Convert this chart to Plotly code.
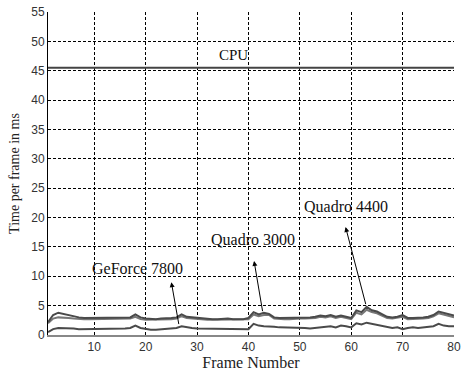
import plotly.graph_objects as go

frames = list(range(1, 81))

cpu = [45.5] * 80

quadro_4400 = [2.2, 3.4, 3.8, 3.6, 3.3, 3.1, 3.0, 2.9, 2.9, 2.9,
               2.9, 2.9, 2.9, 3.0, 3.0, 2.9, 3.0, 3.5, 3.0, 2.8,
               2.7, 2.7, 2.8, 2.8, 2.9, 3.0, 3.5, 3.1, 3.0, 2.9,
               2.8, 2.7, 2.7, 2.7, 2.8, 2.8, 2.7, 2.7, 2.7, 2.9,
               3.9, 3.5, 3.8, 3.6, 3.0, 2.9, 2.9, 2.9, 3.0, 3.0,
               3.0, 3.0, 3.1, 3.3, 3.2, 3.4, 3.1, 3.3, 3.1, 2.9,
               4.2, 3.9, 4.8, 4.2, 4.0, 3.6, 3.1, 3.0, 3.1, 3.4,
               2.9, 2.9, 2.9, 3.0, 3.1, 3.4, 4.0, 3.8, 3.5, 3.3]

quadro_3000 = [2.0, 2.8, 3.0, 3.0, 2.9, 2.8, 2.7, 2.7, 2.7, 2.7,
               2.7, 2.7, 2.7, 2.8, 2.8, 2.7, 2.8, 3.1, 2.7, 2.6,
               2.6, 2.6, 2.6, 2.6, 2.7, 2.8, 3.2, 2.9, 2.8, 2.7,
               2.6, 2.6, 2.6, 2.6, 2.6, 2.6, 2.6, 2.6, 2.6, 2.7,
               3.5, 3.2, 3.4, 3.4, 2.8, 2.7, 2.7, 2.7, 2.8, 2.8,
               2.8, 2.8, 2.9, 3.1, 3.0, 3.2, 2.9, 3.1, 2.9, 2.7,
               3.8, 3.5, 4.3, 3.9, 3.7, 3.3, 2.9, 2.8, 2.9, 3.1,
               2.7, 2.7, 2.7, 2.8, 2.9, 3.2, 3.7, 3.5, 3.2, 3.0]

geforce_7800 = [0.5, 1.0, 1.2, 1.2, 1.1, 1.1, 1.0, 1.0, 1.1, 1.1,
                1.1, 1.1, 1.1, 1.1, 1.1, 1.1, 1.2, 1.6, 1.2, 1.0,
                0.9, 0.9, 1.0, 1.0, 1.1, 1.2, 1.5, 1.3, 1.2, 1.1,
                1.1, 1.0, 1.0, 1.0, 1.0, 1.0, 1.0, 1.0, 1.0, 1.0,
                1.9, 1.6, 1.5, 1.5, 1.4, 1.3, 1.3, 1.3, 1.2, 1.2,
                1.2, 1.1, 1.2, 1.4, 1.5, 1.5, 1.3, 1.6, 1.5, 1.3,
                2.0, 1.8, 2.1, 1.9, 1.8, 1.6, 1.4, 1.2, 1.3, 1.0,
                1.2, 1.3, 1.2, 1.3, 1.4, 1.5, 1.9, 1.6, 1.5, 1.5]

x_ticks = [10, 20, 30, 40, 50, 60, 70, 80]
y_ticks = [0, 5, 10, 15, 20, 25, 30, 35, 40, 45, 50, 55]

# labels: (text, text_x, text_y, arrow_head_x, arrow_head_y, arrow_tail_x, arrow_tail_y)
labels = [
    ("GeForce 7800", 18.5, 11.4, 25.0, 9.0, 26.5, 1.6),
    ("Quadro 3000", 40.9, 16.2, 41.1, 12.6, 42.8, 3.8),
    ("Quadro 4400", 58.9, 21.9, 58.9, 18.4, 62.9, 5.0),
]
cpu_label = ("CPU", 37.0, 47.6)

fig = go.Figure()
series = [
    ("CPU", cpu, "#444444"),
    ("GeForce 7800", geforce_7800, "#4a4a4a"),
    ("Quadro 3000", quadro_3000, "#777777"),
    ("Quadro 4400", quadro_4400, "#4a4a4a"),
]
for name, ys, col in series:
    fig.add_trace(go.Scatter(x=frames, y=ys, mode="lines", name=name,
                             line=dict(color=col, width=2), showlegend=False))

serif = "Liberation Serif, Times New Roman, serif"
annotations = []
for text, tx, ty, hx, hy, sx, sy in labels:
    annotations.append(dict(x=tx, y=ty, xref="x", yref="y", text=text, showarrow=False,
                            font=dict(family=serif, size=16, color="#111111")))
    annotations.append(dict(x=hx, y=hy, xref="x", yref="y", ax=sx, ay=sy,
                            axref="x", ayref="y", text="", showarrow=True,
                            arrowhead=2, arrowsize=1, arrowwidth=1, arrowcolor="black"))
annotations.append(dict(x=cpu_label[1], y=cpu_label[2], xref="x", yref="y", text=cpu_label[0],
                        showarrow=False, font=dict(family=serif, size=15, color="#111111")))

fig.update_layout(
    width=463, height=372,
    margin=dict(l=48, r=2, t=12, b=37),
    paper_bgcolor="white", plot_bgcolor="white",
    font=dict(family="Liberation Sans, Arial, sans-serif", size=12, color="#333333"),
    annotations=annotations,
    xaxis=dict(range=[1, 80], tickvals=x_ticks, showgrid=True, gridcolor="black",
               griddash="3px,2px", gridwidth=1, showline=True, linecolor="#888888",
               linewidth=2, ticks="", zeroline=False, ticklabeloverflow="allow",
               title=dict(text="Frame Number", font=dict(family=serif, size=16, color="#222222"),
                          standoff=0)),
    yaxis=dict(range=[0, 55], tickvals=y_ticks, showgrid=True, gridcolor="black",
               griddash="3px,2px", gridwidth=1, showline=True, linecolor="black",
               linewidth=1, ticks="", zeroline=False,
               title=dict(text="Time per frame in ms", font=dict(family=serif, size=14, color="#222222"),
                          standoff=8)),
)

fig.write_html("out.html")
